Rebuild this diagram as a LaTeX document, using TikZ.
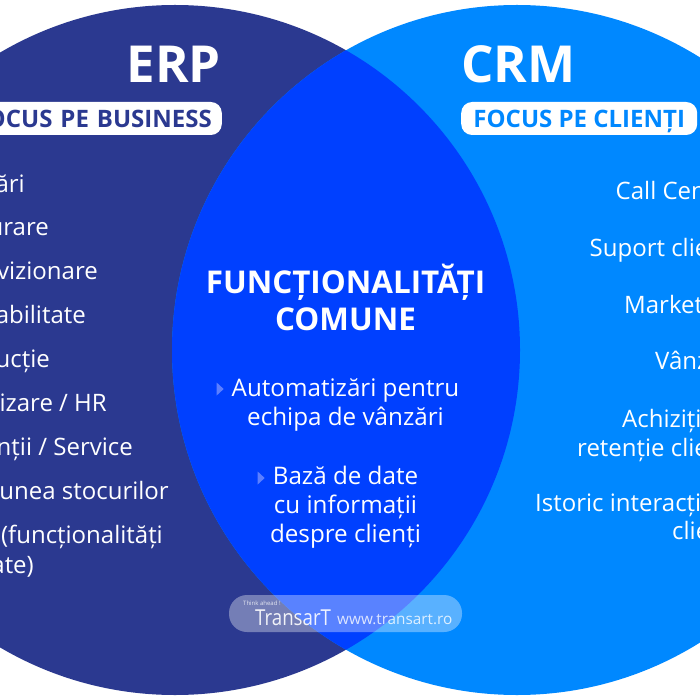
\documentclass[tikz,border=0pt]{standalone}
\usepackage{fontspec}
\setmainfont{Open Sans}
\usetikzlibrary{shapes.geometric}
\definecolor{erpc}{HTML}{2B3990}
\definecolor{crmc}{HTML}{0088FF}
\definecolor{lensc}{HTML}{0040FF}
\definecolor{bulc}{HTML}{5C7FFF}
\tikzset{x=1pt,y=-1pt,
 listitem/.style={text=white,font=\fontsize{24}{30}\selectfont,inner sep=0pt,align=center},
 titletext/.style={text=white,font=\fontsize{51}{56}\selectfont\bfseries,inner sep=0pt},
 pill/.style={fill=white,rounded corners=11pt,inner sep=0pt,minimum height=33pt,text height=21pt,text depth=3pt,font=\fontsize{24}{28}\selectfont\bfseries},
 commontitle/.style={text=white,font=\fontsize{31.4}{37}\selectfont\bfseries,inner sep=0pt,align=center},
 commonitem/.style={text=white,font=\fontsize{24.2}{29}\selectfont,inner sep=0pt,align=center},
 bulletmark/.style={fill=bulc,isosceles triangle,isosceles triangle apex angle=85,isosceles triangle stretches,inner sep=0pt,minimum height=7pt,minimum width=13pt}
}
\begin{document}
\begin{tikzpicture}
\useasboundingbox (0,0) rectangle (700,700);
\clip (0,0) rectangle (700,700);
\fill[white] (0,0) rectangle (700,700);
\fill[erpc] (175,350) circle[radius=345];
\fill[crmc] (517,350) circle[radius=345];
\begin{scope}
\clip (175,350) circle[radius=345];
\fill[lensc] (517,350) circle[radius=345];
\end{scope}
\node[titletext,anchor=base east] (erp) at (221,83) {ERP};
\node[titletext,anchor=base west] (crm) at (461,83) {CRM};
\node[pill,anchor=east,text=erpc,minimum width=290pt,text width=270pt,align=right] (fb) at (222,118.5) {FOCUS PE BUSINESS};
\node[pill,anchor=west,text=crmc,minimum width=236pt] (fc) at (461,118.5) {FOCUS PE CLIENȚI};
\foreach \n/\x/\y/\t in {a/25/192.5/{Vânzări},b/49/235.5/{Facturare},c/98/279.5/{Aprovizionare},d/86/323.5/{Contabilitate},e/50/367/{Producție},f/107/411/{Salarizare / HR},g/133/455/{Garanții / Service},h/169/499/{Gestiunea stocurilor},i/163/543/{CRM (funcționalități},j/34/573/{limitate)}}
  \node[listitem,anchor=base east] (\n) at (\x,\y) {\t};
\foreach \n/\x/\y/\t in {k/615.5/200/{Call Center},l/589.5/256/{Suport clienți},m/624/313/{Marketing},o/622/427/{Achiziție și},p/577/456/{retenție clienți},q/535/511/{Istoric interacțiuni},r/672/539/{clienți}}
  \node[listitem,anchor=base west] (\n) at (\x,\y) {\t};
\node[listitem,anchor=base west] (nn) at (655,369) {Vânzări};
\node[commontitle] (ft) at (345.5,297.5) {FUNCȚIONALITĂȚI\\COMUNE};
\node[commonitem] (i1) at (345.5,405) {Automatizări pentru\\echipa de vânzări};
\node[commonitem] (i2) at (345.5,507) {Bază de date\\cu informații\\despre clienți};
\node[bulletmark] (b1) at (219.5,389) {};
\node[bulletmark] (b2) at (260.5,478) {};
\fill[white,opacity=.35,rounded corners=18pt] (229,595) rectangle (462,632);
\node[inner sep=0pt,text=white,opacity=.8,font=\fontsize{6}{7}\selectfont,anchor=west] (tt) at (243,603) {Think ahead !};
\node[inner sep=0pt,text=white,opacity=.9,font=\fontsize{22}{24}\selectfont,anchor=west,xscale=.85] (ta) at (255,618) {TransarT};
\node[inner sep=0pt,text=white,opacity=.8,font=\fontsize{15.3}{17}\selectfont,anchor=west] (w) at (337,620) {www.transart.ro};
\end{tikzpicture}
\end{document}
